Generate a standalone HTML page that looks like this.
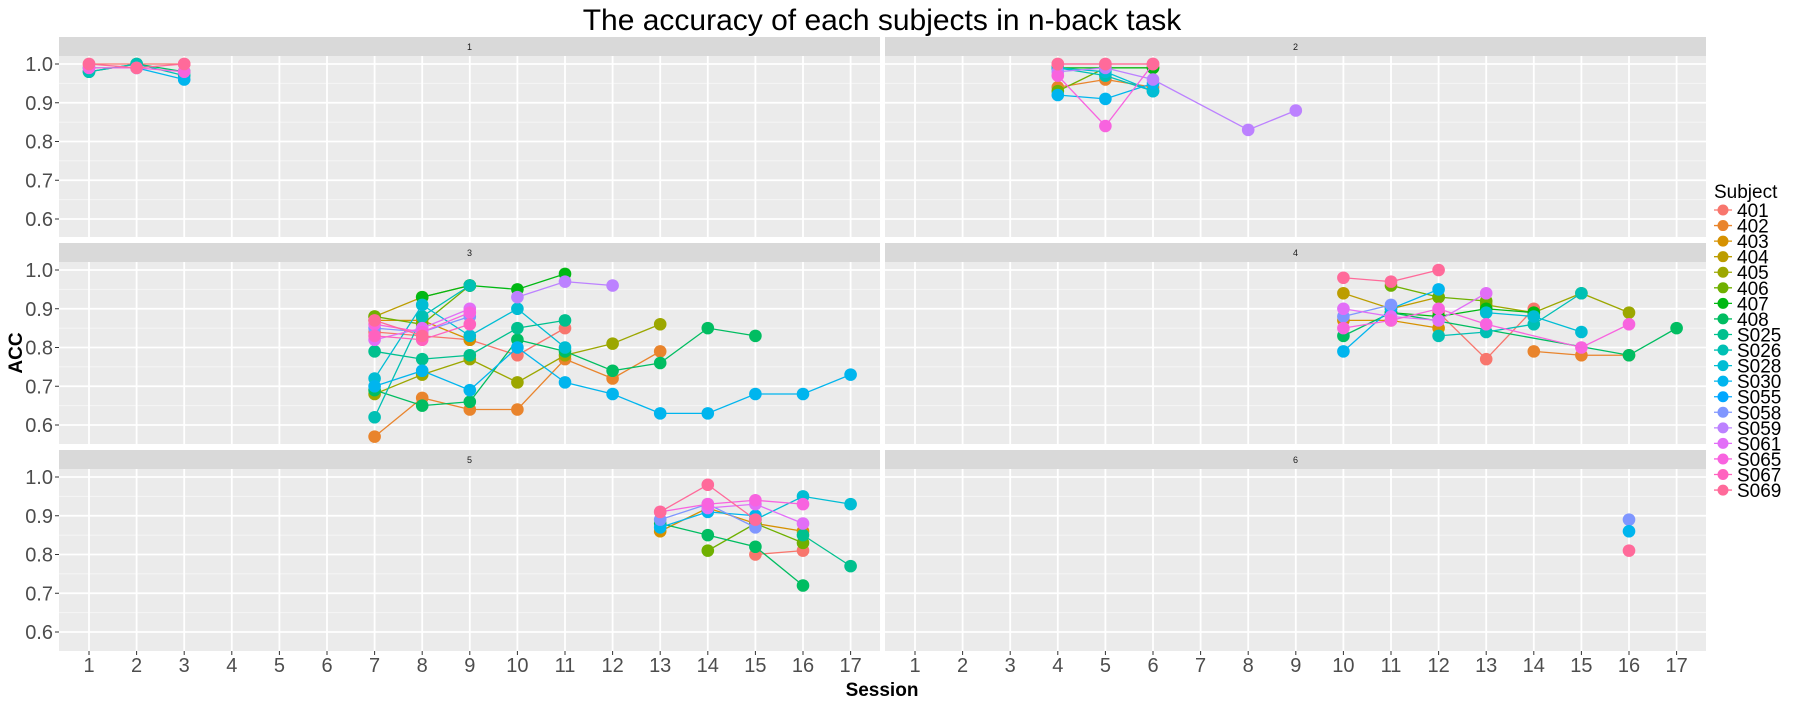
<!DOCTYPE html>
<html><head><meta charset="utf-8"><style>
body{margin:0;background:#fff;font-family:"Liberation Sans",sans-serif}
svg text{font-family:"Liberation Sans",sans-serif}
</style></head><body>
<svg id="chart" width="1800" height="700" xmlns="http://www.w3.org/2000/svg"></svg>
<script>
const subjects=['401','402','403','404','405','406','407','408','S025','S026','S028','S030','S055','S058','S059','S061','S065','S067','S069'];
const yTicks=[0.6,0.7,0.8,0.9,1.0];
const xTicks=[1,2,3,4,5,6,7,8,9,10,11,12,13,14,15,16,17];
const panelLabels=['1','2','3','4','5','6'];
const p1=[
{s:'401',x:[1,2,3],y:[1.0,1.0,1.0]},
{s:'408',x:[1,2,3],y:[0.98,1.0,0.98]},
{s:'S026',x:[1,2,3],y:[0.98,1.0,0.97]},
{s:'S030',x:[1,2,3],y:[0.99,0.99,0.96]},
{s:'S065',x:[1,2,3],y:[0.99,0.99,0.98]},
{s:'S069',x:[1,2,3],y:[1.0,0.99,1.0]}];
const p2=[
{s:'402',x:[4,5,6],y:[0.94,0.96,0.94]},
{s:'406',x:[4,5,6],y:[0.93,0.99,0.99]},
{s:'407',x:[4,5,6],y:[0.99,0.99,0.99]},
{s:'S026',x:[4,5,6],y:[0.99,0.97,0.93]},
{s:'S028',x:[4,5,6],y:[0.99,0.98,0.93]},
{s:'S030',x:[4,5,6],y:[0.92,0.91,0.95]},
{s:'S059',x:[4,5,6,8,9],y:[0.98,0.99,0.96,0.83,0.88]},
{s:'S065',x:[4,5,6],y:[0.97,0.84,1.0]},
{s:'401',x:[4,5,6],y:[1.0,1.0,1.0]},
{s:'S069',x:[4,5,6],y:[1.0,1.0,1.0]}];
const p3=[
{s:'401',x:[7,8,9,10,11],y:[0.84,0.83,0.82,0.78,0.85]},
{s:'402',x:[7,8,9,10,11,12,13],y:[0.57,0.67,0.64,0.64,0.77,0.72,0.79]},
{s:'403',x:[7,8,9],y:[0.87,0.87,0.82]},
{s:'404',x:[7,8,9],y:[0.88,0.93,0.96]},
{s:'405',x:[7,8,9,10,11,12,13],y:[0.68,0.73,0.77,0.71,0.78,0.81,0.86]},
{s:'406',x:[7,8,9],y:[0.88,0.86,0.96]},
{s:'407',x:[8,9,10,11],y:[0.93,0.96,0.95,0.99]},
{s:'408',x:[7,8,9,10,11,12,13,14,15],y:[0.69,0.65,0.66,0.82,0.79,0.74,0.76,0.85,0.83]},
{s:'S025',x:[7,8,9,10,11],y:[0.79,0.77,0.78,0.85,0.87]},
{s:'S026',x:[7,8,9],y:[0.62,0.88,0.96]},
{s:'S028',x:[7,8,9,10,11],y:[0.72,0.91,0.83,0.90,0.80]},
{s:'S030',x:[7,8,9,10,11,12,13,14,15,16,17],y:[0.70,0.74,0.69,0.80,0.71,0.68,0.63,0.63,0.68,0.68,0.73]},
{s:'S058',x:[7,8,9],y:[0.85,0.84,0.88]},
{s:'S059',x:[10,11,12],y:[0.93,0.97,0.96]},
{s:'S061',x:[7,8,9],y:[0.82,0.85,0.90]},
{s:'S065',x:[7,8,9],y:[0.86,0.84,0.89]},
{s:'S067',x:[7,8,9],y:[0.83,0.82,0.86]},
{s:'S069',x:[7,8],y:[0.87,0.83]}];
const p4=[
{s:'401',x:[12,13,14],y:[0.89,0.77,0.90]},
{s:'402',x:[14,15,16],y:[0.79,0.78,0.78]},
{s:'403',x:[10,11,12],y:[0.87,0.87,0.85]},
{s:'404',x:[10,11,12],y:[0.94,0.90,0.93]},
{s:'405',x:[13,14,15,16],y:[0.91,0.89,0.94,0.89]},
{s:'406',x:[11,12,13],y:[0.96,0.93,0.92]},
{s:'407',x:[11,12,13,14],y:[0.89,0.88,0.90,0.89]},
{s:'408',x:[10,11,16,17],y:[0.83,0.89,0.78,0.85]},
{s:'S026',x:[12,13,14,15],y:[0.83,0.84,0.86,0.94]},
{s:'S028',x:[13,14,15],y:[0.89,0.88,0.84]},
{s:'S030',x:[10,11,12],y:[0.79,0.90,0.95]},
{s:'S058',x:[10,11],y:[0.88,0.91]},
{s:'S061',x:[10,11,12,13],y:[0.90,0.88,0.87,0.94]},
{s:'S065',x:[10,11,12,13,15,16],y:[0.85,0.87,0.90,0.86,0.80,0.86]},
{s:'S069',x:[10,11,12],y:[0.98,0.97,1.0]}];
const p5=[
{s:'401',x:[15,16],y:[0.80,0.81]},
{s:'403',x:[13,14,15,16],y:[0.86,0.92,0.88,0.86]},
{s:'406',x:[14,15,16],y:[0.81,0.88,0.83]},
{s:'408',x:[13,14,15,16],y:[0.88,0.85,0.82,0.72]},
{s:'S025',x:[16,17],y:[0.85,0.77]},
{s:'S028',x:[15,16,17],y:[0.89,0.95,0.93]},
{s:'S030',x:[13,14,15],y:[0.87,0.91,0.90]},
{s:'S058',x:[13,14,15],y:[0.89,0.93,0.87]},
{s:'S061',x:[14,15,16],y:[0.92,0.93,0.88]},
{s:'S065',x:[13,14,15,16],y:[0.91,0.93,0.94,0.93]},
{s:'S069',x:[13,14,15],y:[0.91,0.98,0.89]}];
const p6=[
{s:'S058',x:[16],y:[0.89]},
{s:'S030',x:[16],y:[0.86]},
{s:'S069',x:[16],y:[0.81]}];
const panels=[p1,p2,p3,p4,p5,p6];

function hcl(h){const L=65,C=100,r=h*Math.PI/180;const u=C*Math.cos(r),v=C*Math.sin(r);
const Xn=95.047,Yn=100,Zn=108.883;const Y=Yn*Math.pow((L+16)/116,3);
const d=Xn+15*Yn+3*Zn,un=4*Xn/d,vn=9*Yn/d;const up=u/(13*L)+un,vp=v/(13*L)+vn;
const X=Y*9*up/(4*vp),Z=Y*(12-3*up-20*vp)/(4*vp);
const x=X/100,y=Y/100,z=Z/100;
let rgb=[3.2406*x-1.5372*y-0.4986*z,-0.9689*x+1.8758*y+0.0415*z,0.0557*x-0.2040*y+1.0570*z];
rgb=rgb.map(c=>{c=c<=0.0031308?12.92*c:1.055*Math.pow(c,1/2.4)-0.055;return Math.round(Math.max(0,Math.min(1,c))*255)});
return 'rgb('+rgb.join(',')+')';}
const colors={};subjects.forEach((s,i)=>colors[s]=hcl(15+i*360/19));

const svg=document.getElementById('chart');const NS='http://www.w3.org/2000/svg';
function el(t,a,p){const e=document.createElementNS(NS,t);for(const k in a)e.setAttribute(k,a[k]);(p||svg).appendChild(e);return e;}
const colX=[[59,880],[885,1706]];
const stripTop=[37,243,450];const panelBottom=[237,444,651];
const UNIT=47.6;
function xs(c,v){return colX[c][0]+30+(v-1)*UNIT;}
function ys(r,v){const t=stripTop[r]+27;return t+(1.0-v)*387.5;}

let t=el('text',{x:882,y:30,'text-anchor':'middle','font-size':30,fill:'#000'});t.textContent='The accuracy of each subjects in n-back task';



panels.forEach((pd,pi)=>{
 const c=pi%2,r=Math.floor(pi/2);const [xa,xb]=colX[c];const ya=stripTop[r],yb=panelBottom[r];
 const g=el('g',{});
 
 
 el('rect',{x:xa,y:ya,width:xb-xa,height:19,fill:'#D9D9D9'},g);
 const st=el('text',{x:(xa+xb)/2,y:ya+13,'text-anchor':'middle','font-size':9,fill:'#1A1A1A'},g);st.textContent=panelLabels[pi];
 el('rect',{x:xa,y:ya+19,width:xb-xa,height:yb-ya-19,fill:'#EBEBEB'},g);
 [0.65,0.75,0.85,0.95].forEach(v=>el('line',{x1:xa,x2:xb,y1:ys(r,v),y2:ys(r,v),stroke:'#F5F5F5','stroke-width':0.9},g));
 yTicks.forEach(v=>el('line',{x1:xa,x2:xb,y1:ys(r,v),y2:ys(r,v),stroke:'#fff','stroke-width':1.8},g));
 xTicks.forEach(v=>el('line',{x1:xs(c,v),x2:xs(c,v),y1:ya+19,y2:yb,stroke:'#fff','stroke-width':1.8},g));
 if(c===0)yTicks.forEach(v=>{
  el('line',{x1:55,x2:59,y1:ys(r,v),y2:ys(r,v),stroke:'#333','stroke-width':1},g);
  const tx=el('text',{x:53,y:ys(r,v)+7,'text-anchor':'end','font-size':20,fill:'#4D4D4D'},g);tx.textContent=v.toFixed(1);});
 pd.forEach(sr=>{
  const col=colors[sr.s];
  const pts=sr.x.map((xv,i)=>xs(c,xv)+','+ys(r,sr.y[i])).join(' ');
  if(sr.x.length>1){const pl=el('polyline',{points:pts,fill:'none',stroke:col,'stroke-width':1.3},g);
   
   }
  sr.x.forEach((xv,i)=>{const ci=el('circle',{cx:xs(c,xv),cy:ys(r,sr.y[i]),r:6.3,fill:col},g);
   
   });
 });
});
[0,1].forEach(c=>xTicks.forEach(v=>{
 el('line',{x1:xs(c,v),x2:xs(c,v),y1:651,y2:655,stroke:'#333','stroke-width':1});
 const tx=el('text',{x:xs(c,v),y:672,'text-anchor':'middle','font-size':20,fill:'#4D4D4D'});tx.textContent=v;
 
 }));
t=el('text',{x:882,y:696,'text-anchor':'middle','font-size':19,'font-weight':'bold'});t.textContent='Session';


t=el('text',{x:22,y:353,'text-anchor':'middle','font-size':19,'font-weight':'bold',transform:'rotate(-90 22 353)'});t.textContent='ACC';


const lg=el('g',{});


t=el('text',{x:1714,y:198,'font-size':19},lg);t.textContent='Subject';
subjects.forEach((s,i)=>{const y=210+i*15.56;
 const e=el('g',{},lg);
 
 
 el('line',{x1:1714,x2:1732,y1:y,y2:y,stroke:colors[s],'stroke-width':1.3},e);
 el('circle',{cx:1723,cy:y,r:5.5,fill:colors[s]},e);
 const tx=el('text',{x:1737,y:y+7,'font-size':19,fill:'#000'},e);tx.textContent=s;});
</script>
</body></html>
